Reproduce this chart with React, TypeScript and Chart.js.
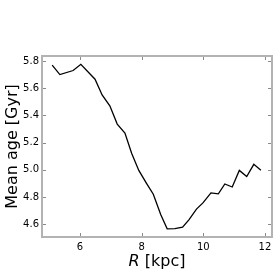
import React, { useEffect, useRef } from "react";
import { Chart, registerables } from "chart.js";

Chart.register(...registerables);

const radius = [5.10, 5.35, 5.78, 6.03, 6.49, 6.72, 6.97, 7.21, 7.46, 7.68, 7.91, 8.16, 8.38, 8.62, 8.83, 9.08, 9.33, 9.54, 9.78, 9.99, 10.25, 10.49, 10.70, 10.94, 11.17, 11.41, 11.64, 11.87];
const meanAge = [5.77, 5.70, 5.73, 5.776, 5.666, 5.55, 5.47, 5.336, 5.27, 5.12, 4.995, 4.90, 4.82, 4.67, 4.565, 4.567, 4.577, 4.633, 4.71, 4.756, 4.83, 4.823, 4.895, 4.873, 4.995, 4.95, 5.04, 4.997];
const xTicks = [6, 8, 10, 12];
const yTicks = [4.6, 4.8, 5.0, 5.2, 5.4, 5.6, 5.8];
const xLabelVar = "R";
const xLabelUnit = " [kpc]";
const yLabel = "Mean age [Gyr]";

const FONT = "'DejaVu Sans', sans-serif";
const FRAME = "#b3b3b3";

const framePlugin = {
  id: "frameTicks",
  afterDraw(chart: any) {
    const { ctx, chartArea } = chart;
    const { left, right, top, bottom } = chartArea;
    const xs = chart.scales.x;
    const ys = chart.scales.y;
    ctx.save();
    ctx.strokeStyle = "#8a8a8a";
    ctx.lineWidth = 1;
    const L = 4;
    xTicks.forEach((v) => {
      const px = Math.round(xs.getPixelForValue(v)) + 0.5;
      ctx.beginPath();
      ctx.moveTo(px, bottom);
      ctx.lineTo(px, bottom - L);
      ctx.moveTo(px, top);
      ctx.lineTo(px, top + L);
      ctx.stroke();
    });
    yTicks.forEach((v) => {
      const py = Math.round(ys.getPixelForValue(v)) + 0.5;
      ctx.beginPath();
      ctx.moveTo(left, py);
      ctx.lineTo(left + L, py);
      ctx.moveTo(right, py);
      ctx.lineTo(right - L, py);
      ctx.stroke();
    });
    ctx.strokeStyle = FRAME;
    ctx.lineWidth = 2;
    ctx.strokeRect(left, top, right - left, bottom - top);

    // axis titles
    ctx.fillStyle = "#000";
    ctx.textBaseline = "middle";
    const italic = "italic 16px " + FONT;
    const normal = "16px " + FONT;
    ctx.font = italic;
    const w1 = ctx.measureText(xLabelVar).width;
    ctx.font = normal;
    const w2 = ctx.measureText(xLabelUnit).width;
    const cx = (left + right) / 2;
    const startX = cx - (w1 + w2) / 2;
    const ty = 262;
    ctx.textAlign = "left";
    ctx.font = italic;
    ctx.fillText(xLabelVar, startX, ty);
    ctx.font = normal;
    ctx.fillText(xLabelUnit, startX + w1, ty);

    ctx.translate(13, (top + bottom) / 2);
    ctx.rotate(-Math.PI / 2);
    ctx.textAlign = "center";
    ctx.font = normal;
    ctx.fillText(yLabel, 0, 0);
    ctx.restore();
  },
};

export default function App() {
  const ref = useRef<HTMLCanvasElement>(null);
  useEffect(() => {
    if (!ref.current) return;
    const chart = new Chart(ref.current, {
      type: "line",
      data: {
        datasets: [
          {
            data: radius.map((r, i) => ({ x: r, y: meanAge[i] })),
            borderColor: "#000",
            borderWidth: 1.3,
            pointRadius: 0,
            tension: 0,
            fill: false,
          },
        ],
      },
      options: {
        animation: false,
        responsive: false,
        events: [],
        layout: { padding: { left: 0, right: 8, top: 56, bottom: 0 } },
        plugins: { legend: { display: false }, tooltip: { enabled: false } },
        scales: {
          x: {
            type: "linear",
            min: 4.77,
            max: 12.23,
            afterBuildTicks: (s: any) => {
              s.ticks = xTicks.map((v) => ({ value: v }));
            },
            afterFit: (s: any) => {
              s.height = 43;
            },
            grid: { display: false, drawTicks: false },
            border: { display: false },
            ticks: {
              color: "#000",
              padding: 4,
              maxRotation: 0,
              font: { family: FONT, size: 10 },
              callback: (v: any) => String(v),
            },
          },
          y: {
            type: "linear",
            min: 4.505,
            max: 5.837,
            afterBuildTicks: (s: any) => {
              s.ticks = yTicks.map((v) => ({ value: v }));
            },
            afterFit: (s: any) => {
              s.width = 42;
            },
            grid: { display: false, drawTicks: false },
            border: { display: false },
            ticks: {
              color: "#000",
              padding: 3,
              font: { family: FONT, size: 10 },
              callback: (v: any) => Number(v).toFixed(1),
            },
          },
        },
      },
      plugins: [framePlugin],
    });
    return () => chart.destroy();
  }, []);
  return (
    <div style={{ position: "fixed", left: 0, top: 0, width: 280, height: 280, background: "#fff" }}>
      <canvas ref={ref} width={280} height={280} />
    </div>
  );
}
